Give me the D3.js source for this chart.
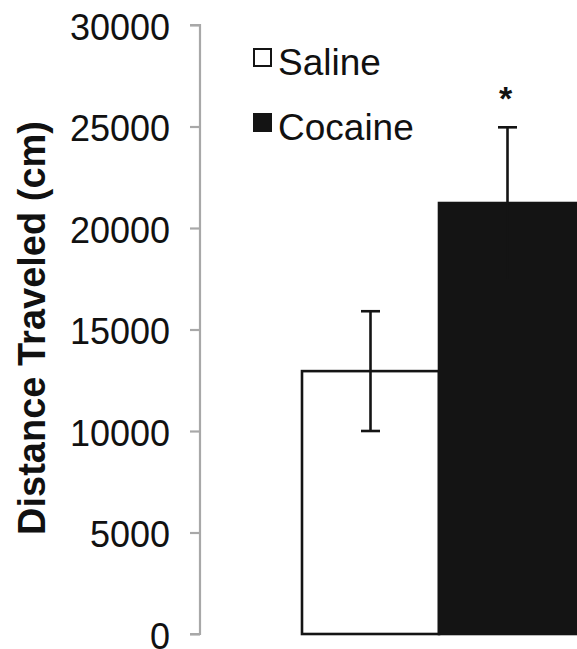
<!DOCTYPE html>
<html>
<head>
<meta charset="utf-8">
<script src="https://cdn.jsdelivr.net/npm/d3@7"></script>
<style>
  html, body { margin: 0; padding: 0; background: #fff; }
  svg { display: block; }
</style>
</head>
<body>
<svg id="chart" width="577" height="649"></svg>
<script>
// data
const groups = ["Saline", "Cocaine"];
const means = [12950, 21230];
const sems = [2950, 3730];
const fills = ["#ffffff", "#141414"];
const sig = ["", "*"];
const yTicks = [0, 5000, 10000, 15000, 20000, 25000, 30000];

const font = "'Liberation Sans', Arial, Helvetica, sans-serif";
const svg = d3.select("#chart");

const y = d3.scaleLinear().domain([0, 30000]).range([634, 25]);
const x = d3.scaleBand().domain(groups).range([302, 576]).padding(0);

const rows = groups.map((g, i) => ({ g, m: means[i], e: sems[i], fill: fills[i], sig: sig[i] }));

// y axis
const yAxis = svg.append("g")
  .attr("transform", "translate(200,0)")
  .call(d3.axisLeft(y).tickValues(yTicks).tickSize(10).tickPadding(20).tickFormat(d => d));
yAxis.select(".domain").attr("stroke", "#a8a8a8").attr("stroke-width", 2.2)
  .attr("d", "M-10," + y(30000) + "H0V" + y(0) + "H-10");
yAxis.selectAll(".tick line").attr("stroke", "#a8a8a8").attr("stroke-width", 2.2);
yAxis.selectAll(".tick text")
  .attr("fill", "#111").attr("font-family", font).attr("font-size", 36)
  .attr("dy", "0.4em");

// axis title
svg.append("text")
  .attr("transform", "translate(45,328) rotate(-90)")
  .attr("text-anchor", "middle")
  .attr("font-family", font).attr("font-size", 38).attr("font-weight", "bold")
  .attr("fill", "#111")
  .text("Distance Traveled (cm)");

// bars
svg.selectAll("rect.bar").data(rows).enter().append("rect")
  .attr("class", "bar")
  .attr("x", d => x(d.g))
  .attr("y", d => y(d.m))
  .attr("width", x.bandwidth())
  .attr("height", d => y(0) - y(d.m))
  .attr("fill", d => d.fill)
  .attr("stroke", "#141414")
  .attr("stroke-width", 2.6);

// error bars
const cap = 9.5;
const eb = svg.selectAll("g.err").data(rows).enter().append("g").attr("class", "err")
  .attr("stroke", "#141414")
  .attr("stroke-width", 2.6);
eb.append("line")
  .attr("x1", d => x(d.g) + x.bandwidth() / 2).attr("x2", d => x(d.g) + x.bandwidth() / 2)
  .attr("y1", d => y(d.m - d.e)).attr("y2", d => y(d.m + d.e));
eb.append("line")
  .attr("x1", d => x(d.g) + x.bandwidth() / 2 - cap).attr("x2", d => x(d.g) + x.bandwidth() / 2 + cap)
  .attr("y1", d => y(d.m + d.e)).attr("y2", d => y(d.m + d.e));
eb.filter(d => d.fill === "#ffffff").append("line")
  .attr("x1", d => x(d.g) + x.bandwidth() / 2 - cap).attr("x2", d => x(d.g) + x.bandwidth() / 2 + cap)
  .attr("y1", d => y(d.m - d.e)).attr("y2", d => y(d.m - d.e));

// significance marks
svg.selectAll("text.sig").data(rows).enter().append("text")
  .attr("class", "sig")
  .attr("x", d => x(d.g) + x.bandwidth() / 2 - 2)
  .attr("y", d => y(d.m + d.e) - 17)
  .attr("text-anchor", "middle")
  .attr("font-family", font).attr("font-size", 34).attr("font-weight", "bold")
  .attr("fill", "#111")
  .text(d => d.sig);

// legend
const legend = svg.append("g");
const lg = legend.selectAll("g").data(rows).enter().append("g")
  .attr("transform", (d, i) => "translate(253," + (75 + i * 65) + ")");
lg.append("rect")
  .attr("x", 1).attr("y", -26).attr("width", 17).attr("height", 17)
  .attr("fill", d => d.fill).attr("stroke", "#141414").attr("stroke-width", 2);
lg.append("text")
  .attr("x", 25).attr("y", 0)
  .attr("font-family", font).attr("font-size", 37).attr("fill", "#111")
  .text(d => d.g);
</script>
</body>
</html>
